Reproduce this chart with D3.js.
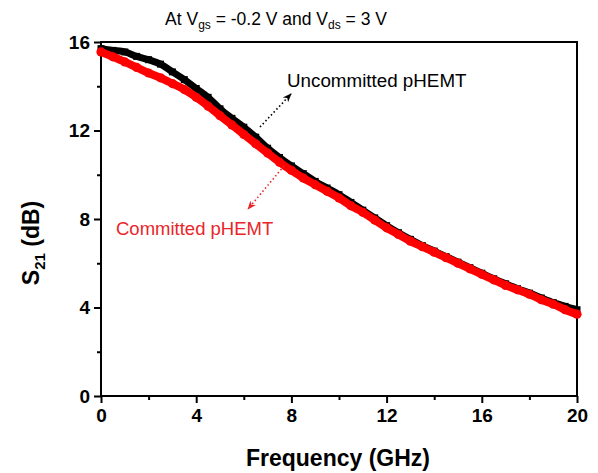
<!DOCTYPE html>
<html>
<head>
<meta charset="utf-8">
<script src="https://cdn.jsdelivr.net/npm/d3@7"></script>
<style>
  body { margin: 0; background: #fff; }
  svg { font-family: Arial, "Liberation Sans", sans-serif; }
</style>
</head>
<body>
<svg id="mainCanvas" width="598" height="473"></svg>
<script>
// frequency in GHz
const freq = [0, 0.5, 1, 1.5, 2, 2.5, 3, 3.5, 4, 4.5, 5, 5.5, 6, 6.5, 7, 7.5, 8, 8.5, 9, 9.5,
    10, 10.5, 11, 11.5, 12, 12.5, 13, 13.5, 14, 14.5, 15, 15.5, 16, 16.5, 17, 17.5, 18, 18.5, 19, 19.5, 20];
// S21 (dB)
const uncommitted = [15.7, 15.62, 15.55, 15.35, 15.2, 15.0, 14.65, 14.3, 13.9, 13.5, 12.98, 12.55, 12.15, 11.7,
    11.2, 10.78, 10.4, 10.05, 9.7, 9.4, 9.1, 8.75, 8.4, 8.05, 7.7, 7.38, 7.08, 6.8, 6.55, 6.3, 6.05, 5.8,
    5.55, 5.3, 5.07, 4.85, 4.65, 4.43, 4.22, 4.05, 3.9];
const committed = [15.55, 15.33, 15.1, 14.85, 14.6, 14.38, 14.12, 13.85, 13.5, 13.1, 12.67, 12.25, 11.82, 11.4,
    10.98, 10.57, 10.2, 9.85, 9.55, 9.25, 8.95, 8.6, 8.3, 7.95, 7.6, 7.3, 7.0, 6.75, 6.5, 6.25, 6.0, 5.75,
    5.5, 5.25, 5.0, 4.8, 4.6, 4.35, 4.15, 3.9, 3.7];
const xTicks = [0, 4, 8, 12, 16, 20];
const yTicks = [0, 4, 8, 12, 16];

const svg = d3.select("svg#mainCanvas");
const plotL = 101, plotR = 577, plotT = 42, plotB = 396;
const font = "Arial, 'Liberation Sans', sans-serif";

const x = d3.scaleLinear().domain([0, 20]).range([plotL, plotR]);
const y = d3.scaleLinear().domain([0, 16]).range([plotB, plotT]);

// frame
svg.append("rect")
    .attr("x", plotL).attr("y", plotT)
    .attr("width", plotR - plotL).attr("height", plotB - plotT)
    .attr("fill", "none").attr("stroke", "#000").attr("stroke-width", 2);

// axes: major + minor ticks
function styleAxis(g) {
    g.select(".domain").remove();
    g.selectAll("line").attr("stroke", "#000").attr("stroke-width", 2);
}
const xMinor = svg.append("g").attr("transform", `translate(0,${plotB})`)
    .call(d3.axisBottom(x).tickValues(d3.range(2, 20, 4)).tickSize(4).tickFormat(""));
styleAxis(xMinor);
const xAxis = svg.append("g").attr("transform", `translate(0,${plotB})`)
    .call(d3.axisBottom(x).tickValues(xTicks).tickSize(7).tickPadding(6));
styleAxis(xAxis);
xAxis.selectAll("text").attr("font-size", 19).attr("font-weight", "bold").attr("fill", "#000")
    .attr("font-family", font);

const yMinor = svg.append("g").attr("transform", `translate(${plotL},0)`)
    .call(d3.axisLeft(y).tickValues(d3.range(2, 16, 4)).tickSize(4).tickFormat(""));
styleAxis(yMinor);
const yAxis = svg.append("g").attr("transform", `translate(${plotL},0)`)
    .call(d3.axisLeft(y).tickValues(yTicks).tickSize(7).tickPadding(4));
styleAxis(yAxis);
yAxis.selectAll("text").attr("font-size", 19).attr("font-weight", "bold").attr("fill", "#000")
    .attr("font-family", font);

// series
const pts = (vals) => freq.map((f, i) => ({ f: f, v: vals[i] }));
const line = d3.line().x(d => x(d.f)).y(d => y(d.v)).curve(d3.curveMonotoneX);

svg.append("path").datum(pts(uncommitted))
    .attr("d", line).attr("fill", "none").attr("stroke", "#000").attr("stroke-width", 7);
svg.append("g").selectAll("rect")
    .data(pts(uncommitted))
    .join("rect")
    .attr("x", d => x(d.f) - 3.5).attr("y", d => y(d.v) - 3.5)
    .attr("width", 7).attr("height", 7).attr("fill", "#000");

svg.append("path").datum(pts(committed))
    .attr("d", line).attr("fill", "none").attr("stroke", "#ff0000").attr("stroke-width", 8);
svg.append("g").selectAll("circle")
    .data(pts(committed))
    .join("circle")
    .attr("cx", d => x(d.f)).attr("cy", d => y(d.v))
    .attr("r", 4.6).attr("fill", "#ff0000");

// annotations
const defs = svg.append("defs");
[["arrBlack", "#000"], ["arrRed", "#e8262a"]].forEach(function (m) {
    defs.append("marker").attr("id", m[0])
        .attr("viewBox", "0 0 10 10").attr("refX", 9).attr("refY", 5)
        .attr("markerWidth", 9).attr("markerHeight", 9).attr("markerUnits", "userSpaceOnUse")
        .attr("orient", "auto")
        .append("path").attr("d", "M0,1 L10,5 L0,9 L3,5 Z").attr("fill", m[1]);
});
svg.append("line")
    .attr("x1", 260).attr("y1", 127).attr("x2", 291).attr("y2", 94)
    .attr("stroke", "#000").attr("stroke-width", 1.6).attr("stroke-dasharray", "1.5,2.5")
    .attr("marker-end", "url(#arrBlack)");
svg.append("line")
    .attr("x1", 284).attr("y1", 166).attr("x2", 248).attr("y2", 209)
    .attr("stroke", "#e8262a").attr("stroke-width", 1.6).attr("stroke-dasharray", "1.5,2.5")
    .attr("marker-end", "url(#arrRed)");

svg.append("text").attr("x", 287).attr("y", 87)
    .attr("font-size", 18.8).attr("fill", "#000").text("Uncommitted pHEMT");
svg.append("text").attr("x", 116).attr("y", 235)
    .attr("font-size", 18.5).attr("fill", "#e8262a").text("Committed pHEMT");

// title
const title = svg.append("text").attr("x", 276).attr("y", 25)
    .attr("text-anchor", "middle").attr("font-size", 17.5).attr("fill", "#000");
title.append("tspan").text("At V");
title.append("tspan").attr("font-size", 12).attr("dy", 4).text("gs");
title.append("tspan").attr("dy", -4).text(" = -0.2 V and V");
title.append("tspan").attr("font-size", 12).attr("dy", 4).text("ds");
title.append("tspan").attr("dy", -4).text(" = 3 V");

// axis titles
svg.append("text").attr("x", 338).attr("y", 466)
    .attr("text-anchor", "middle").attr("font-size", 23).attr("font-weight", "bold")
    .text("Frequency (GHz)");
const yTitle = svg.append("text")
    .attr("transform", `translate(39,243) rotate(-90)`)
    .attr("text-anchor", "middle").attr("font-size", 23).attr("font-weight", "bold");
yTitle.append("tspan").text("S");
yTitle.append("tspan").attr("font-size", 15).attr("dy", 6).text("21");
yTitle.append("tspan").attr("dy", -6).text(" (dB)");
</script>
</body>
</html>
